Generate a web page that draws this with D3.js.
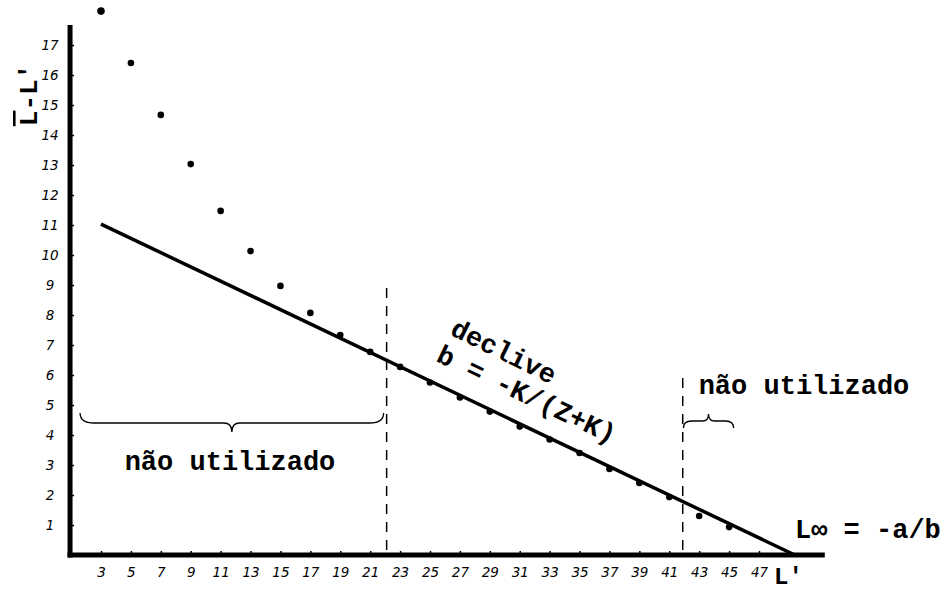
<!DOCTYPE html>
<html>
<head>
<meta charset="utf-8">
<script src="https://cdn.jsdelivr.net/npm/d3@7"></script>
<style>
  body { margin: 0; background: #fff; }
  .mono { font-family: "Liberation Mono", "Courier New", monospace; font-weight: bold; }
  .tick text { font-family: "DejaVu Sans", sans-serif; font-style: italic; font-size: 13.5px; }
</style>
</head>
<body>
<div id="chart"></div>
<script>
// comprimentos L' (classes) e valores medios L-L'
var lengths = [3, 5, 7, 9, 11, 13, 15, 17, 19, 21, 23, 25, 27, 29, 31, 33, 35, 37, 39, 41, 43, 45];
var meanDiff = [18.13, 16.4, 14.67, 13.03, 11.47, 10.13, 8.97, 8.07, 7.33, 6.77, 6.27,
                5.75, 5.25, 4.78, 4.28, 3.85, 3.4, 2.87, 2.4, 1.93, 1.3, 0.93];

// recta ajustada: de L'=3 ate L infinito
var fitX = [3, 49.4];
var fitY = [11.03, 0];

// limites dos pontos usados
var cutLow = 22.1, cutLowTop = 8.9;
var cutHigh = 41.9, cutHighTop = 5.9;

var xTicks = d3.range(3, 49, 2);
var yTicks = d3.range(1, 18);

var width = 950, height = 591;

var x = d3.scaleLinear().domain([3, 47]).range([101, 759]);
var y = d3.scaleLinear().domain([0, 17]).range([555, 45]);

var svg = d3.select("#chart").append("svg")
    .attr("width", width)
    .attr("height", height);

// eixos (so marcas e rotulos)
var xAxis = svg.append("g")
    .attr("transform", "translate(0," + y(0) + ")")
    .call(d3.axisBottom(x).tickValues(xTicks).tickSize(-4).tickPadding(12));
xAxis.select(".domain").remove();
xAxis.selectAll(".tick line").attr("stroke-width", 1.5);

var yAxis = svg.append("g")
    .attr("transform", "translate(" + x(0.93) + ",0)")
    .call(d3.axisLeft(y).tickValues(yTicks).tickSize(-4).tickFormat(d3.format("d")));
yAxis.select(".domain").remove();
yAxis.selectAll(".tick line").attr("stroke-width", 1.5);
yAxis.selectAll(".tick text").attr("text-anchor", "middle").attr("x", -20);

// linhas dos eixos
svg.append("line")
    .attr("x1", x(0.93)).attr("x2", x(0.93))
    .attr("y1", 25).attr("y2", y(0) + 2.5)
    .attr("stroke", "#000").attr("stroke-width", 5);
svg.append("line")
    .attr("x1", x(0.93) - 2.5).attr("x2", x(51.4))
    .attr("y1", y(0)).attr("y2", y(0))
    .attr("stroke", "#000").attr("stroke-width", 5);

// cortes tracejados
[[cutLow, cutLowTop], [cutHigh, cutHighTop]].forEach(function(c) {
  svg.append("line")
      .attr("x1", x(c[0])).attr("x2", x(c[0]))
      .attr("y1", y(c[1])).attr("y2", y(0))
      .attr("stroke", "#000").attr("stroke-width", 1.5)
      .attr("stroke-dasharray", "10,8");
});

// recta
svg.append("line")
    .attr("x1", x(fitX[0])).attr("y1", y(fitY[0]))
    .attr("x2", x(fitX[1])).attr("y2", y(fitY[1]))
    .attr("stroke", "#000").attr("stroke-width", 3.5);

// pontos
svg.selectAll("circle.pt")
    .data(lengths)
  .enter().append("circle")
    .attr("class", "pt")
    .attr("cx", function(d) { return x(d); })
    .attr("cy", function(d, i) { return y(meanDiff[i]); })
    .attr("r", function(d, i) { return i === 0 ? 3.8 : 3.3; })
    .attr("fill", "#000");

// chavetas
var by = y(4.4);
var x1 = x(1.6), x2 = x(21.9), xm = (x1 + x2) / 2;
svg.append("path")
    .attr("d", "M" + x1 + "," + (by - 10) + "Q" + x1 + "," + by + " " + (x1 + 14) + "," + by +
      "L" + (xm - 8) + "," + by + "Q" + xm + "," + by + " " + xm + "," + (by + 9) +
      "Q" + xm + "," + by + " " + (xm + 8) + "," + by +
      "L" + (x2 - 14) + "," + by + "Q" + x2 + "," + by + " " + x2 + "," + (by - 10))
    .attr("fill", "none").attr("stroke", "#000").attr("stroke-width", 1.3);

var r1 = x(41.95), r2 = x(45.3), rm = (r1 + r2) / 2;
svg.append("path")
    .attr("d", "M" + r1 + "," + (by + 5) + "Q" + r1 + "," + (by - 2) + " " + (r1 + 8) + "," + (by - 2) +
      "L" + (rm - 6) + "," + (by - 2) + "Q" + rm + "," + (by - 2) + " " + rm + "," + (by - 9) +
      "Q" + rm + "," + (by - 2) + " " + (rm + 6) + "," + (by - 2) +
      "L" + (r2 - 8) + "," + (by - 2) + "Q" + r2 + "," + (by - 2) + " " + r2 + "," + (by + 5))
    .attr("fill", "none").attr("stroke", "#000").attr("stroke-width", 1.3);

// textos
svg.append("text").attr("class", "mono")
    .attr("x", 230).attr("y", 470)
    .attr("text-anchor", "middle").attr("font-size", 27)
    .text("não utilizado");
svg.append("text").attr("class", "mono")
    .attr("x", 804).attr("y", 394)
    .attr("text-anchor", "middle").attr("font-size", 27)
    .text("não utilizado");

svg.append("text").attr("class", "mono")
    .attr("transform", "translate(503,353) rotate(26.3)")
    .attr("text-anchor", "middle").attr("dominant-baseline", "central")
    .attr("font-size", 27)
    .text("declive");
svg.append("text").attr("class", "mono")
    .attr("transform", "translate(526,396) rotate(25.3)")
    .attr("text-anchor", "middle").attr("dominant-baseline", "central")
    .attr("font-size", 27)
    .text("b = -K/(Z+K)");

svg.append("text").attr("class", "mono")
    .attr("x", 795).attr("y", 538).attr("font-size", 27)
    .text("L∞ = -a/b");
svg.append("text").attr("class", "mono")
    .attr("x", 774).attr("y", 584).attr("font-size", 24)
    .text("L'");

var yl = svg.append("text").attr("class", "mono")
    .attr("transform", "translate(37,95) rotate(-90)")
    .attr("text-anchor", "middle").attr("font-size", 26);
yl.append("tspan").style("text-decoration", "overline").text("L");
yl.append("tspan").text("-L'");
</script>
</body>
</html>
